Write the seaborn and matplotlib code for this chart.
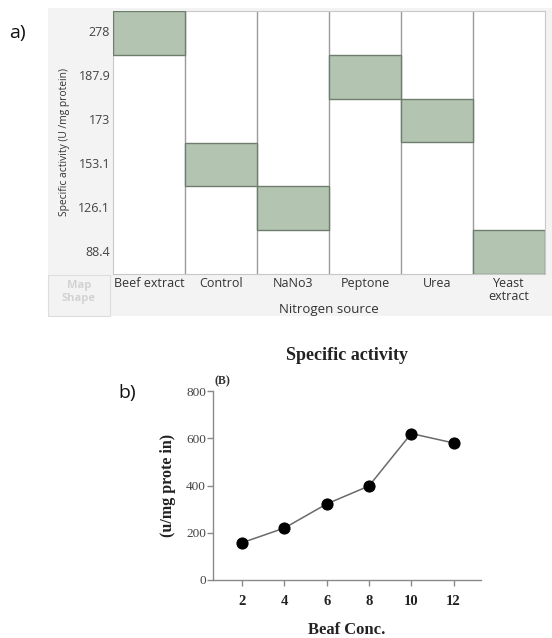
import matplotlib
matplotlib.use("Agg")
import matplotlib.pyplot as plt
import numpy as np
import pandas as pd
import seaborn as sns
from matplotlib.colors import ListedColormap
from matplotlib.patches import Rectangle

# ---------------------------------------------------------------------------
# Data
# ---------------------------------------------------------------------------

# panel a: nitrogen source vs specific activity level
nitrogen_sources = ["Beef extract", "Control", "NaNo3", "Peptone", "Urea", "Yeast extract"]
activity_levels = ["278", "187.9", "173", "153.1", "126.1", "88.4"]
source_activity = ["278", "153.1", "126.1", "187.9", "173", "88.4"]

# panel b: specific activity vs beef concentration
beef_conc = [2, 4, 6, 8, 10, 12]
beef_activity = [158, 220, 322, 398, 620, 580]

W, H = 552, 638
GREEN = "#b3c5b1"
GREEN_EDGE = "#6f7d6e"
SANS = ["Open Sans", "DejaVu Sans"]
SERIF = ["Liberation Serif", "DejaVu Serif"]

sns.set_theme(style="white")
plt.rcParams["font.family"] = SANS


def px_rect(x0, y0, x1, y1):
    """pixel box (top-left origin) -> figure fraction [l, b, w, h]"""
    return [x0 / W, 1 - y1 / H, (x1 - x0) / W, (y1 - y0) / H]


fig = plt.figure(figsize=(W / 100, H / 100), dpi=100)
fig.patch.set_facecolor("white")

# light grey frame behind panel a
fig.patches.append(Rectangle((48 / W, 1 - 316 / H), (W - 48) / W, (316 - 8) / H,
                             transform=fig.transFigure, facecolor="#f3f3f3",
                             edgecolor="none", zorder=-2))
fig.patches.append(Rectangle((48 / W, 1 - 316 / H), (110 - 48) / W, (316 - 275) / H,
                             transform=fig.transFigure, facecolor="#f3f3f3",
                             edgecolor="#dddddd", linewidth=0.8, zorder=-1))
fig.text(79 / W, 1 - 292 / H, "Map\nShape", ha="center", va="center",
         fontsize=8, color="#d3d3d3", fontweight="bold", linespacing=1.2)

# ---------------------------------------------------------------------------
# Panel a
# ---------------------------------------------------------------------------

df_a = pd.DataFrame({"source": nitrogen_sources, "activity": source_activity})
mat = pd.crosstab(df_a["activity"], df_a["source"]).reindex(
    index=activity_levels, columns=nitrogen_sources, fill_value=0)

ax1 = fig.add_axes(px_rect(113, 11, 545, 274))
ax1.set_facecolor("white")
sns.heatmap(mat, mask=mat == 0, cmap=ListedColormap([GREEN]), cbar=False,
            linewidths=0, ax=ax1)
# dark outline round each filled cell
for i, j in np.argwhere(mat.values > 0):
    ax1.add_patch(Rectangle((j, i), 1, 1, fill=False, edgecolor=GREEN_EDGE,
                            linewidth=1.0, zorder=3))
for x in range(1, len(nitrogen_sources)):
    ax1.axvline(x, color="#9a9a9a", linewidth=1.0, zorder=0.5)
for sp in ax1.spines.values():
    sp.set_visible(True)
    sp.set_color("#c8c8c8")
    sp.set_linewidth(0.8)

ax1.set_xticks(np.arange(len(nitrogen_sources)) + 0.5)
ax1.set_xticklabels([s.replace("Yeast extract", "Yeast\nextract") for s in nitrogen_sources],
                    rotation=0, fontsize=9, color="#333333", va="top", linespacing=1.0)
ax1.set_yticks(np.arange(len(activity_levels)) + 0.5)
ax1.set_yticklabels(activity_levels, rotation=0, fontsize=9, color="#444444")
ax1.tick_params(axis="both", length=0, pad=2)
ax1.set_xlabel("Nitrogen source", fontsize=9.5, color="#333333", labelpad=0)
ax1.set_ylabel("Specific activity (U /mg protein)", fontsize=7.4, color="#333333", labelpad=6)

fig.text(17 / W, 1 - 33 / H, "a)", ha="center", va="center", fontsize=14, color="#111111")

# ---------------------------------------------------------------------------
# Panel b
# ---------------------------------------------------------------------------

ax2 = fig.add_axes(px_rect(213, 391, 481, 580))
sns.lineplot(x=beef_conc, y=beef_activity, marker="o", markersize=8,
             color="#6a6a6a", linewidth=1.1, markerfacecolor="black",
             markeredgecolor="black", ax=ax2)
ax2.set_xlim(0.62, 13.3)
ax2.set_ylim(0, 800)
ax2.set_xticks(beef_conc)
ax2.set_yticks([0, 200, 400, 600, 800])
sns.despine(ax=ax2)
for side in ("left", "bottom"):
    ax2.spines[side].set_color("#8a8a8a")
    ax2.spines[side].set_linewidth(1.0)
ax2.tick_params(axis="both", direction="out", length=4, width=1.0, color="#8a8a8a",
                left=True, bottom=True, pad=7)
for lab in ax2.get_xticklabels():
    lab.set_fontfamily(SERIF)
    lab.set_fontweight("bold")
    lab.set_fontsize(10.5)
    lab.set_color("#222222")
for lab in ax2.get_yticklabels():
    lab.set_fontfamily(SERIF)
    lab.set_fontsize(9.5)
    lab.set_color("#444444")
ax2.tick_params(axis="y", pad=1)
ax2.set_xlabel("Beaf Conc.", family=SERIF, fontweight="bold", fontsize=12,
               color="#222222", labelpad=10)
ax2.set_ylabel("(u/mg prote in)", family=SERIF, fontweight="bold", fontsize=11.5,
               color="#222222", labelpad=7)

fig.text(347 / W, 1 - 355 / H, "Specific activity", ha="center", va="center",
         family=SERIF, fontweight="bold", fontsize=13, color="#222222")
fig.text(222 / W, 1 - 381 / H, "(B)", ha="center", va="center",
         family=SERIF, fontweight="bold", fontsize=8.5, color="#333333")
fig.text(127 / W, 1 - 393 / H, "b)", ha="center", va="center", fontsize=14, color="#111111")

fig.savefig("out.png", dpi=100)
